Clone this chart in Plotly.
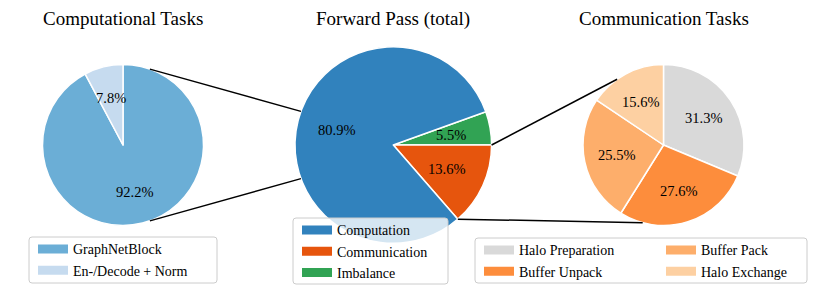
import math
import plotly.graph_objects as go

# ---------------- data ----------------
comp_labels = ["GraphNetBlock", "En-/Decode + Norm"]
comp_values = [92.2, 7.8]
comp_colors = ["#6baed6", "#c6dbef"]

total_labels = ["Computation", "Communication", "Imbalance"]
total_values = [80.9, 13.6, 5.5]
total_colors = ["#3182bd", "#e6550d", "#31a354"]

comm_labels = ["Halo Preparation", "Buffer Unpack", "Buffer Pack", "Halo Exchange"]
comm_values = [31.3, 27.6, 25.5, 15.6]
comm_colors = ["#d9d9d9", "#fd8d3c", "#fdae6b", "#fdd0a2"]

titles = ["Computational Tasks", "Forward Pass (total)", "Communication Tasks"]

# ---------------- layout constants (px) ----------------
W, H = 817, 295
FONT = "'Liberation Serif', 'Times New Roman', serif"
LEFT = dict(cx=123.0, cy=145.0, r=80.5)
MID = dict(cx=393.3, cy=145.0, r=98.3)
RIGHT = dict(cx=663.5, cy=145.0, r=80.5)


def px(x):
    return x / W


def py(y):
    return 1 - y / H


def domain(g):
    return dict(x=[px(g["cx"] - g["r"]), px(g["cx"] + g["r"])],
                y=[py(g["cy"] + g["r"]), py(g["cy"] - g["r"])])


def point(g, ang_cw, k=1.0):
    a = math.radians(ang_cw)
    return (g["cx"] + k * g["r"] * math.sin(a), g["cy"] - k * g["r"] * math.cos(a))


def mids(values, rot):
    tot = sum(values)
    out, cum = [], 0.0
    for v in values:
        out.append(rot + 360.0 * (cum + v / 2) / tot)
        cum += v
    return out


fig = go.Figure()

# left pie: clockwise from 12 o'clock
rot_left = 0.0
fig.add_trace(go.Pie(labels=comp_labels, values=comp_values, sort=False,
                     direction="clockwise", rotation=rot_left,
                     marker=dict(colors=comp_colors, line=dict(color="white", width=1.5)),
                     textinfo="none", hoverinfo="skip", showlegend=False,
                     domain=domain(LEFT)))

# middle pie: clockwise order Imbalance, Communication, Computation
mid_order = [2, 1, 0]
mid_vals = [total_values[i] for i in mid_order]
rot_mid = 90.0 - 360.0 * total_values[2] / sum(total_values)
fig.add_trace(go.Pie(labels=[total_labels[i] for i in mid_order], values=mid_vals,
                     sort=False, direction="clockwise", rotation=rot_mid,
                     marker=dict(colors=[total_colors[i] for i in mid_order],
                                 line=dict(color="white", width=1.5)),
                     textinfo="none", hoverinfo="skip", showlegend=False,
                     domain=domain(MID)))

# right pie
rot_right = 0.0
fig.add_trace(go.Pie(labels=comm_labels, values=comm_values, sort=False,
                     direction="clockwise", rotation=rot_right,
                     marker=dict(colors=comm_colors, line=dict(color="white", width=1.5)),
                     textinfo="none", hoverinfo="skip", showlegend=False,
                     domain=domain(RIGHT)))

# percentage labels at 0.6 radius
annotations = []
lab_font = dict(family=FONT, size=14.5, color="black")
for g, vals, rot in [(LEFT, comp_values, rot_left), (MID, mid_vals, rot_mid),
                     (RIGHT, comm_values, rot_right)]:
    tot = sum(vals)
    for v, a in zip(vals, mids(vals, rot)):
        x, y = point(g, a, 0.6)
        annotations.append(dict(x=px(x), y=py(y), xref="paper", yref="paper",
                                text=f"{100 * v / tot:.1f}%", showarrow=False,
                                font=lab_font, xanchor="center", yanchor="middle"))

# titles
for g, t in zip([LEFT, MID, RIGHT], titles):
    annotations.append(dict(x=px(g["cx"]), y=py(19), xref="paper", yref="paper",
                            text=t, showarrow=False,
                            font=dict(family=FONT, size=19, color="black"),
                            xanchor="center", yanchor="middle"))

# connector lines
shapes = []
comm_start = rot_mid + 360.0 * total_values[2] / sum(total_values)
comm_end = comm_start + 360.0 * total_values[1] / sum(total_values)
connectors = [
    (point(LEFT, 19.5), point(MID, 290.0)),
    (point(LEFT, 160.5), point(MID, 250.0)),
    (point(MID, comm_start), point(RIGHT, 324.8)),
    (point(MID, comm_end), point(RIGHT, 195.0)),
]
for (x0, y0), (x1, y1) in connectors:
    shapes.append(dict(type="line", xref="paper", yref="paper",
                       x0=px(x0), y0=py(y0), x1=px(x1), y1=py(y1),
                       line=dict(color="black", width=1.5), layer="above"))


def rbox(x0, y0, x1, y1, r=3):
    rx, ry = r / W, r / H
    X0, X1, Y0, Y1 = px(x0), px(x1), py(y0), py(y1)  # Y0 top, Y1 bottom
    path = (f"M{X0 + rx},{Y0} L{X1 - rx},{Y0} Q{X1},{Y0} {X1},{Y0 - ry} "
            f"L{X1},{Y1 + ry} Q{X1},{Y1} {X1 - rx},{Y1} L{X0 + rx},{Y1} "
            f"Q{X0},{Y1} {X0},{Y1 + ry} L{X0},{Y0 - ry} Q{X0},{Y0} {X0 + rx},{Y0} Z")
    return dict(type="path", path=path, xref="paper", yref="paper",
                fillcolor="rgba(255,255,255,0.8)", line=dict(color="#cccccc", width=1),
                layer="above")


shapes += [rbox(29, 237, 217, 283), rbox(293, 218, 448, 284), rbox(475, 238, 807, 283)]


# legend-only traces
def legend_trace(name, color, legend):
    return go.Scatter(x=[None], y=[None], mode="lines", name=name,
                      line=dict(color=color, width=9), legend=legend,
                      hoverinfo="skip")


for lab, c in zip(comp_labels, comp_colors):
    fig.add_trace(legend_trace(lab, c, "legend"))
for lab, c in zip(total_labels, total_colors):
    fig.add_trace(legend_trace(lab, c, "legend2"))
legend_cols = {"legend3": ["Halo Preparation", "Buffer Unpack"],
               "legend4": ["Buffer Pack", "Halo Exchange"]}
for lg, names in legend_cols.items():
    for lab in names:
        fig.add_trace(legend_trace(lab, comm_colors[comm_labels.index(lab)], lg))

leg_font = dict(family=FONT, size=14, color="black")


def leg(x, ytop):
    return dict(x=px(x), y=py(ytop), xanchor="left", yanchor="top",
                bgcolor="rgba(0,0,0,0)", borderwidth=0, font=leg_font,
                itemclick=False, itemdoubleclick=False)


fig.update_layout(
    width=W, height=H, margin=dict(l=0, r=0, t=0, b=0),
    paper_bgcolor="white", plot_bgcolor="white",
    xaxis=dict(visible=False), yaxis=dict(visible=False),
    showlegend=True,
    legend=leg(33, 233.4),
    legend2=leg(297, 214.4),
    legend3=leg(479, 234.4),
    legend4=leg(661, 234.4),
    annotations=annotations,
    shapes=shapes,
)

fig.write_html("out.html", config={"displayModeBar": False},
               post_script="document.body.style.margin='0';document.body.style.overflow='hidden';")
